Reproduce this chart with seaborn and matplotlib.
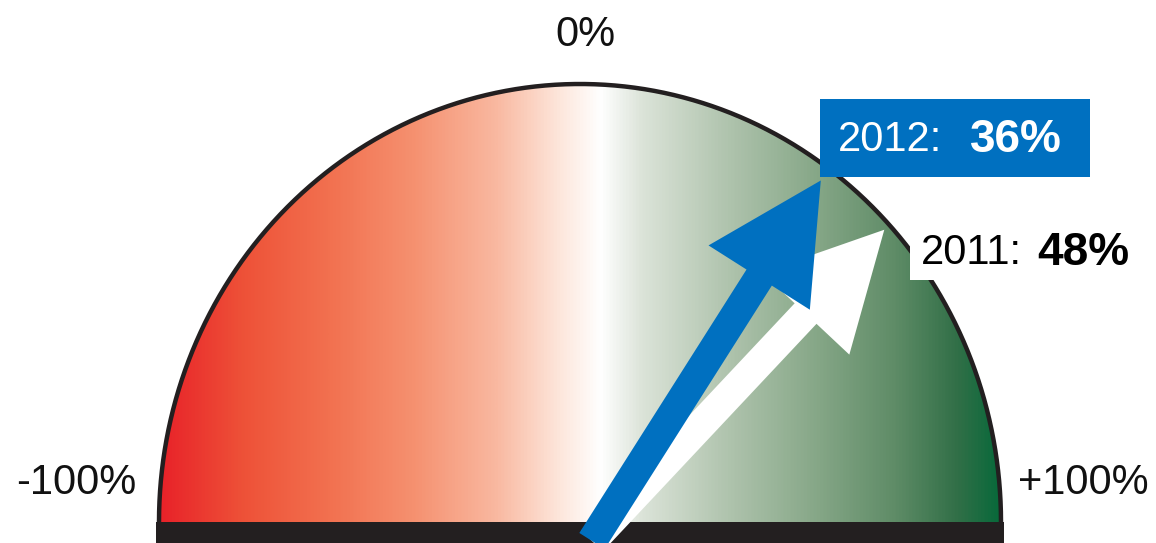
import numpy as np
import matplotlib
matplotlib.use("Agg")
import matplotlib.pyplot as plt
from matplotlib.patches import Polygon, Rectangle
import seaborn as sns

# Gauge data
scale_labels = ["-100%", "0%", "+100%"]
years = ["2011", "2012"]
values = [48, 36]                       # percent, on a -100..+100 scale
arrow_colors = ["#ffffff", "#0070c0"]

# Colour ramp of the dial, stop positions on the -100..+100 scale
stop_pos = [-100, -80, -60, -40, -20, -5, 5, 15, 35, 55, 75, 90, 100]
stop_colors = ["#e82229", "#ee5238", "#f2704f", "#f5906f", "#f9b8a0", "#fde6db",
               "#ffffff", "#dbe3d8", "#b0c4ae", "#89a98a", "#5f8c67", "#316f47", "#08693a"]

sns.set_theme(style="white")
plt.rcParams["font.family"] = ["Liberation Sans", "DejaVu Sans"]

fig = plt.figure(figsize=(11.56, 5.43), dpi=100)
ax = fig.add_axes([0, 0, 1, 1])
ax.set_xlim(0, 1156)
ax.set_ylim(543, 0)
ax.axis("off")

# dial geometry (pixel-like units, y downward)
cx, cy, rx, ry = 580, 522, 421, 438

t = np.linspace(0, np.pi, 400)
dome = np.column_stack([cx - rx * np.cos(t), cy - ry * np.sin(t)])
dome_patch = Polygon(dome, closed=True, facecolor="none", edgecolor="none")
ax.add_patch(dome_patch)

# horizontal colour gradient clipped to the dome
cmap_pos = (np.array(stop_pos) + 100) / 200.0
cmap = matplotlib.colors.LinearSegmentedColormap.from_list(
    "gauge", list(zip(cmap_pos, sns.color_palette(stop_colors))))
grad = np.linspace(0, 1, 512).reshape(1, -1)
img = ax.imshow(grad, cmap=cmap, aspect="auto",
                extent=[cx - rx, cx + rx, cy, cy - ry], zorder=1)
img.set_clip_path(dome_patch)

# outline of the dome
ax.plot(dome[:, 0], dome[:, 1], color="#231f20", lw=3.2, zorder=2,
        solid_capstyle="butt")

# base bar
ax.add_patch(Rectangle((cx - rx - 3, cy), 2 * rx + 6, 22, facecolor="#231f20",
                       edgecolor="none", zorder=2))

# arrows: angle from vertical proportional to the value
ox, oy, length = 592, 541, 427
for v, col in zip(values, arrow_colors):
    th = np.deg2rad(v / 100 * 90)
    dx, dy = length * np.sin(th), -length * np.cos(th)
    ax.arrow(ox, oy, dx, dy, width=30, head_width=120, head_length=115,
             length_includes_head=True, facecolor=col, edgecolor="none",
             zorder=3)

# scale labels
ax.text(76, 483, scale_labels[0], ha="center", va="center", fontsize=30,
        color="#111111", zorder=5)
ax.text(585, 35, scale_labels[1], ha="center", va="center", fontsize=30,
        color="#111111", zorder=5)
ax.text(1083, 483, scale_labels[2], ha="center", va="center", fontsize=30,
        color="#111111", zorder=5)

# 2012 call-out (blue box)
ax.add_patch(Rectangle((820, 99), 270, 78, facecolor="#0070c0",
                       edgecolor="none", zorder=4))
ax.text(838, 140, f"{years[1]}:", ha="left", va="center", fontsize=30,
        color="white", zorder=5)
ax.text(970, 140, f"{values[1]}%", ha="left", va="center", fontsize=33,
        fontweight="bold", color="white", zorder=5)

# 2011 call-out (white box)
ax.add_patch(Rectangle((910, 225), 232, 55, facecolor="white",
                       edgecolor="none", zorder=4))
ax.text(921, 253, f"{years[0]}:", ha="left", va="center", fontsize=30,
        color="black", zorder=5)
ax.text(1037, 253, f"{values[0]}%", ha="left", va="center", fontsize=33,
        fontweight="bold", color="black", zorder=5)

fig.savefig("out.png", dpi=100)
